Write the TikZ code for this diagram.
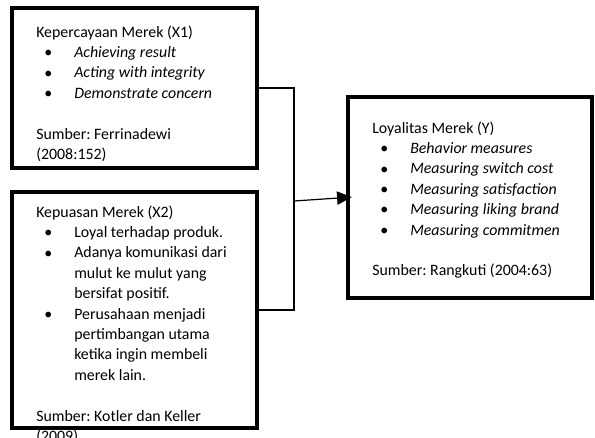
\documentclass[tikz,border=0pt]{standalone}
\usepackage{fontspec}
\setmainfont{Carlito}
\usepackage{tikz}
\usetikzlibrary{arrows.meta, positioning, calc}

\frenchspacing
\newcommand{\bl}[1]{\hspace*{6pt}\makebox[22.5pt][l]{\raisebox{-0.2pt}{\large\textbullet}}#1}
\newcommand{\blc}[1]{\hspace*{28.5pt}#1}

\begin{document}
\begin{tikzpicture}[
  x=0.75pt, y=-0.75pt,
  >=Triangle,
  box/.style={draw, line width=3.4pt, rectangle, inner sep=0pt},
  txt/.style={anchor=base west, inner sep=0pt, font=\fontsize{11.9}{15.3}\selectfont},
  wire/.style={line width=0.9pt},
  arr/.style={line width=0.9pt, -{Triangle[length=11pt, width=10pt]}, shorten >=-4.5pt}
]
\useasboundingbox (0,0) rectangle (595,437);

% Texts
\node[txt] (x1txt) at (36, 37) {\begin{tabular}[t]{@{}l@{}}
Kepercayaan Merek (X1)\\
\bl{\itshape Achieving result}\\
\bl{\itshape Acting with integrity}\\
\bl{\itshape Demonstrate concern}\\
\\
Sumber: Ferrinadewi\\
(2008:152)
\end{tabular}};

\node[txt] (x2txt) at (36, 217) {\begin{tabular}[t]{@{}l@{}}
Kepuasan Merek (X2)\\
\bl{Loyal terhadap produk.}\\
\bl{Adanya komunikasi dari}\\
\blc{mulut ke mulut yang}\\
\blc{bersifat positif.}\\
\bl{Perusahaan menjadi}\\
\blc{pertimbangan utama}\\
\blc{ketika ingin membeli}\\
\blc{merek lain.}\\
\\
Sumber: Kotler dan Keller\\
(2009)
\end{tabular}};

\node[txt] (ytxt) at (372, 133) {\begin{tabular}[t]{@{}l@{}}
Loyalitas Merek (Y)\\
\bl{\itshape Behavior measures}\\
\bl{\itshape Measuring switch cost}\\
\bl{\itshape Measuring satisfaction}\\
\bl{\itshape Measuring liking brand}\\
\bl{\itshape Measuring commitmen}\\
\\
Sumber: Rangkuti (2004:63)
\end{tabular}};

% Boxes
\node[box, minimum width=183.75pt, minimum height=120pt] (x1) at (134.5, 88) {};
\node[box, minimum width=183.75pt, minimum height=177pt] (x2) at (134.5, 310) {};
\node[box, minimum width=183pt, minimum height=150.75pt] (y) at (470, 197.5) {};

% Connectors
\coordinate (join) at (294, 201);
\draw[wire] (x1.east) -| (join) |- (x2.east);
\draw[arr] (join) -- (y.west);

\end{tikzpicture}
\end{document}
